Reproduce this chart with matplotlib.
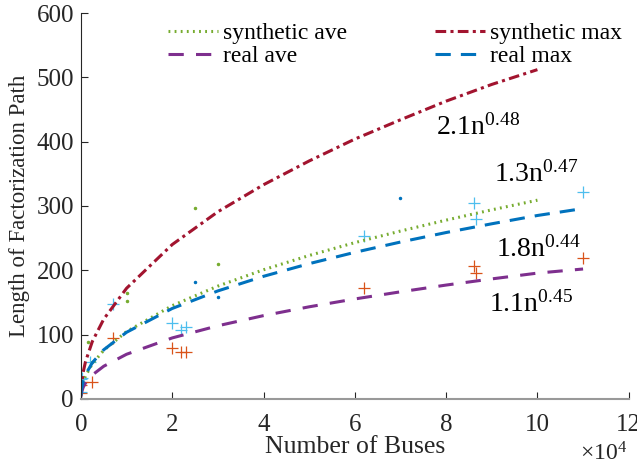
import matplotlib
matplotlib.use('Agg')
import matplotlib.pyplot as plt
from matplotlib.ticker import FuncFormatter

plt.rcParams['font.family'] = ['Liberation Serif', 'DejaVu Serif']
plt.rcParams['mathtext.fontset'] = 'custom'
plt.rcParams['mathtext.rm'] = 'Liberation Serif'

# fitted curves, values
syn_n = [14, 100, 500, 1000, 2500, 5000, 10000, 20000, 30000, 40000, 50000,
         60000, 70000, 80000, 90000, 100000]
syn_ave = [4.8, 12.0, 25.6, 35.5, 54.5, 75.6, 104.7, 145, 175.4, 200.8, 223,
           243, 261, 278, 294, 309]
syn_max = [7.6, 19.3, 41.5, 57.7, 89.2, 124, 172, 240, 291, 333, 370,
           404, 434, 463, 489, 512]

real_n = [14, 100, 500, 1000, 2500, 5000, 10000, 20000, 30000, 40000, 50000,
          60000, 70000, 80000, 90000, 100000, 110000]
real_ave = [3.6, 8.7, 18.0, 24.6, 37.2, 50.8, 69.4, 94.8, 113.7, 129.5, 143.2,
            155.4, 166.5, 177.0, 186.6, 195.6, 202]
real_max = [5.7, 13.7, 27.7, 37.6, 56.3, 76.4, 103.6, 140.6, 167.9, 190.6, 210.3,
            227.9, 243.9, 258.7, 272.3, 285.2, 296]

# sample points
syn_ave_pts_n = [1500, 2500, 10000, 10000, 25000, 30000]
syn_ave_pts_v = [89, 58, 164, 153, 297, 209]
syn_max_pts_n = [25000, 30000, 70000]
syn_max_pts_v = [182, 159, 313]
real_ave_pts_n = [14, 118, 300, 2400, 7000, 20000, 22000, 23000, 62000, 86000, 86500, 110000]
real_ave_pts_v = [9, 22, 27, 27, 95, 79, 73, 73, 173, 206, 196, 219]
real_max_pts_n = [14, 118, 300, 2000, 7000, 20000, 22000, 23000, 62000, 86000, 86500, 110000]
real_max_pts_v = [11, 31, 33, 58, 148, 118, 107, 112, 254, 304, 280, 322]

fig = plt.figure(figsize=(6.37, 4.66), dpi=100)
ax = fig.add_axes([0.127, 0.144, 0.860, 0.828])

green = '#77AC30'
red = '#A2142F'
purple = '#7E2F8E'
blue = '#0072BD'
orange = '#D95319'
lblue = '#4DBEEE'
dark = '#262626'

ax.plot(syn_ave_pts_n, syn_ave_pts_v, '.', color=green, ms=3)
ax.plot(syn_max_pts_n, syn_max_pts_v, '.', color=blue, ms=3)
ax.plot(real_ave_pts_n, real_ave_pts_v, '+', color=orange, ms=8, mew=0.9)
ax.plot(real_max_pts_n, real_max_pts_v, '+', color=lblue, ms=8, mew=0.9)

l1, = ax.plot(syn_n, syn_ave, color=green, lw=2.2, dashes=(0.6, 1.4), label='synthetic ave')
l2, = ax.plot(syn_n, syn_max, color=red, lw=2.2, dashes=(3.5, 1.4, 1.0, 1.4), label='synthetic max')
l3, = ax.plot(real_n, real_ave, color=purple, lw=2.2, dashes=(5, 4), label='real ave')
l4, = ax.plot(real_n, real_max, color=blue, lw=2.2, dashes=(5, 3.3), label='real max')

ax.text(77800, 411, r'$\mathregular{2.1n^{0.48}}$', fontsize=20, color='black')
ax.text(90500, 338, r'$\mathregular{1.3n^{0.47}}$', fontsize=20, color='black')
ax.text(91000, 221, r'$\mathregular{1.8n^{0.44}}$', fontsize=20, color='black')
ax.text(89400, 135, r'$\mathregular{1.1n^{0.45}}$', fontsize=20, color='black')

ax.set_xlim(0, 120000)
ax.set_ylim(0, 600)
ax.set_xticks(range(0, 120001, 20000))
ax.set_yticks(range(0, 601, 100))
ax.xaxis.set_major_formatter(FuncFormatter(lambda v, p: '%g' % (v / 1e4)))
ax.tick_params(direction='in', labelsize=18, colors=dark, length=5)
ax.tick_params(axis='x', pad=11)
ax.tick_params(axis='y', pad=5)
ax.spines['top'].set_visible(False)
ax.spines['right'].set_visible(False)
ax.spines['left'].set_color(dark)
ax.spines['bottom'].set_color('#999999')
ax.spines['bottom'].set_linewidth(1.5)

ax.set_xlabel('Number of Buses', fontsize=18.5, color=dark, labelpad=0)
ax.set_ylabel('Length of Factorization Path', fontsize=16.5, color=dark, labelpad=5)
ax.text(0.997, -0.142, r'$\mathregular{\times10^{4}}$', transform=ax.transAxes, fontsize=17,
        ha='right', va='center', color=dark)

ax.legend(handles=[l1, l3, l2, l4], ncol=2, frameon=False, fontsize=17,
          loc='upper left', bbox_to_anchor=(0.159, 0.975), borderaxespad=0, borderpad=0,
          handlelength=2.1, columnspacing=3.7, labelspacing=0.05, handletextpad=0.25)

fig.savefig('out.png', dpi=100)
